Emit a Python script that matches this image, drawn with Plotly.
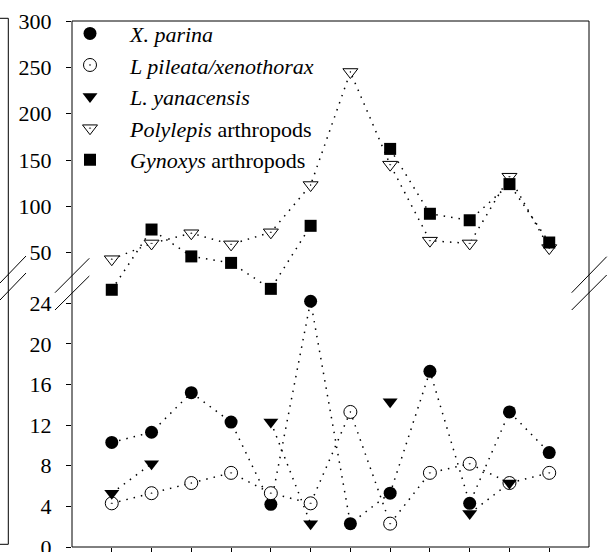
import plotly.graph_objects as go

# ---- data ----
sites = list(range(1, 13))
x_parina = [10.3, 11.3, 15.2, 12.3, 4.2, 24.2, 2.3, 5.3, 17.3, 4.3, 13.3, 9.3]
l_pileata = [4.3, 5.3, 6.3, 7.3, 5.3, 4.3, 13.3, 2.3, 7.3, 8.2, 6.3, 7.3]
l_yanacensis = [5.3, 8.2, None, None, 12.3, 2.3, None, 14.3, None, 3.3, 6.3, None]
polylepis_arth = [43, 60, 71, 59, 72, 123, 245, 145, 63, 60, 132, 55]
gynoxys_arth = [10, 75, 46, 39, 11, 79, None, 162, 92, 85, 124, 61]

bottom_ticks = [0, 4, 8, 12, 16, 20, 24]
top_ticks = [50, 100, 150, 200, 250, 300]

names = ["<i>X. parina</i>", "<i>L pileata/xenothorax</i>", "<i>L. yanacensis</i>",
         "<i>Polylepis</i> arthropods", "<i>Gynoxys</i> arthropods"]

# ---- layout geometry (pixels) ----
W, H = 611, 552
ML, MR, MT, MB = 72, 22, 21, 5
PW, PH = W - ML - MR, H - MT - MB
BOT_PX_PER = 10.154
TOP_PX_PER = 0.9268
BOT_MAX = 24.6
bot_h = BOT_MAX * BOT_PX_PER
split = bot_h / PH
top_lo = 300 - (PH - bot_h) / TOP_PX_PER

def P(px, py):
    return (px - ML) / PW, (H - MB - py) / PH

FONT = "Liberation Serif"
dot = dict(color="black", width=1.5, dash="1.5px,6px")

fig = go.Figure()

series = [
    (x_parina, "y", dict(symbol="circle", size=13, color="black")),
    (l_pileata, "y", dict(symbol="circle-dot", size=13, color="white", line=dict(color="black", width=1))),
    (l_yanacensis, "y", dict(symbol="triangle-down", size=13, color="black")),
    (polylepis_arth, "y2", dict(symbol="triangle-down-dot", size=13, color="white", line=dict(color="black", width=1))),
    (gynoxys_arth, "y2", dict(symbol="square", size=12, color="black")),
]

for vals, ya, mk in series:
    fig.add_trace(go.Scatter(x=sites, y=vals, yaxis=ya, mode="lines", line=dot,
                             connectgaps=False, showlegend=False, hoverinfo="skip",
                             cliponaxis=False))
for i, (vals, ya, mk) in enumerate(series):
    fig.add_trace(go.Scatter(x=sites, y=vals, yaxis=ya, mode="markers", marker=mk,
                             name=names[i], legendgroup=f"g{i}", cliponaxis=False))

shapes = [dict(type="rect", xref="paper", yref="paper", x0=0, y0=0, x1=1, y1=1,
               line=dict(color="black", width=1))]

def seg(a, b):
    x0, y0 = P(*a)
    x1, y1 = P(*b)
    shapes.append(dict(type="line", xref="paper", yref="paper", x0=x0, y0=y0, x1=x1, y1=y1,
                       line=dict(color="black", width=1)))

# axis break marks
seg((55, 292.7), (89.3, 258.3))
seg((55, 310), (89.3, 276))
seg((571.7, 292.7), (606.7, 256.7))
seg((571.7, 310), (606.7, 275))
# partial frame of neighbouring panel at the far left
seg((8.3, 18.3), (8.3, 544.3))
seg((0, 18.3), (8.3, 18.3))
seg((0, 544.3), (8.3, 544.3))
seg((0, 283), (26, 256))
seg((0, 300), (26, 273))

axis_common = dict(showgrid=False, zeroline=False, showline=False, ticks="outside",
                   ticklen=5, tickcolor="black", tickwidth=1, automargin=False,
                   tickfont=dict(family=FONT, size=22, color="black"))

fig.update_layout(
    width=W, height=H,
    margin=dict(l=ML, r=MR, t=MT, b=MB, pad=0, autoexpand=False),
    paper_bgcolor="white", plot_bgcolor="white",
    showlegend=True,
    legend=dict(x=(50 - ML) / PW, xanchor="left", y=1.016, yanchor="top",
                bgcolor="rgba(0,0,0,0)", borderwidth=0,
                font=dict(family=FONT, size=22, color="black"),
                tracegroupgap=0, itemwidth=70),
    xaxis=dict(range=[0, 13], tickvals=sites, showticklabels=False, **axis_common),
    yaxis=dict(domain=[0, split], range=[0, BOT_MAX], tickvals=bottom_ticks,
               ticklabelstandoff=10, ticklabeloverflow="allow", **axis_common),
    yaxis2=dict(domain=[split, 1], range=[top_lo, 300], tickvals=top_ticks,
                ticklabelstandoff=10, ticklabeloverflow="allow", anchor="x", **axis_common),
    shapes=shapes,
)

fig.write_html("out.html")
